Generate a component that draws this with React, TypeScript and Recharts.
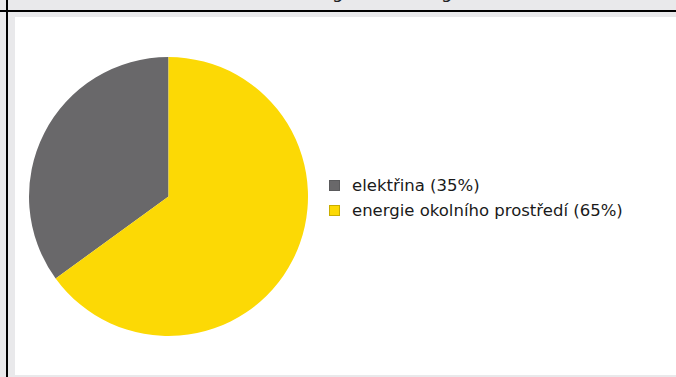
import { Cell, Legend, Pie, PieChart } from "recharts";

const sources = ["elektřina", "energie okolního prostředí"];
const shares = [35, 65];
const colors = ["#69686a", "#fcd905"];
const borders = ["#5a5a5c", "#c9ad00"];

const data = sources.map((name, i) => ({ name, value: shares[i] }));

function LegendList({ payload }: any) {
  return (
    <div style={{ fontFamily: "DejaVu Sans, sans-serif", fontSize: 16.5, color: "#1a1a1a" }}>
      {(payload || []).map((entry: any, i: number) => (
        <div key={i} style={{ display: "flex", alignItems: "center", height: 25 }}>
          <svg width={11} height={11} style={{ marginRight: 12 }}>
            <rect x={0.5} y={0.5} width={10} height={10} fill={colors[i]} stroke={borders[i]} />
          </svg>
          <span>{`${entry.value} (${shares[i]}%)`}</span>
        </div>
      ))}
    </div>
  );
}

export default function App() {
  return (
    <div style={{ position: "fixed", inset: 0, background: "#e9e9eb", overflow: "hidden" }}>
      {/* cropped title above the frame */}
      <svg width={676} height={10} style={{ position: "absolute", left: 0, top: 0 }}>
        <text x={332} y={-2} fontFamily="DejaVu Sans" fontSize={18} fill="#222">g</text>
        <text x={441} y={-2} fontFamily="DejaVu Sans" fontSize={18} fill="#222">g</text>
      </svg>
      <div style={{ position: "absolute", left: 0, top: 10, width: 676, height: 2, background: "#000" }} />
      <div style={{ position: "absolute", left: 6, top: 0, width: 2, height: 377, background: "#000" }} />
      <div style={{ position: "absolute", left: 15, top: 17, width: 661, height: 358, background: "#fff" }}>
        <PieChart width={661} height={358} margin={{ top: 0, right: 0, bottom: 0, left: 0 }}>
          <Pie
            data={data}
            dataKey="value"
            nameKey="name"
            cx={153.5}
            cy={179.5}
            outerRadius={139.5}
            startAngle={90}
            endAngle={450}
            stroke="none"
            isAnimationActive={false}
          >
            {data.map((d, i) => (
              <Cell key={d.name} fill={colors[i]} />
            ))}
          </Pie>
          <Legend
            layout="vertical"
            align="right"
            verticalAlign="middle"
            content={<LegendList />}
            wrapperStyle={{ left: 314, right: "auto", top: 156, width: 340 }}
          />
        </PieChart>
      </div>
    </div>
  );
}
